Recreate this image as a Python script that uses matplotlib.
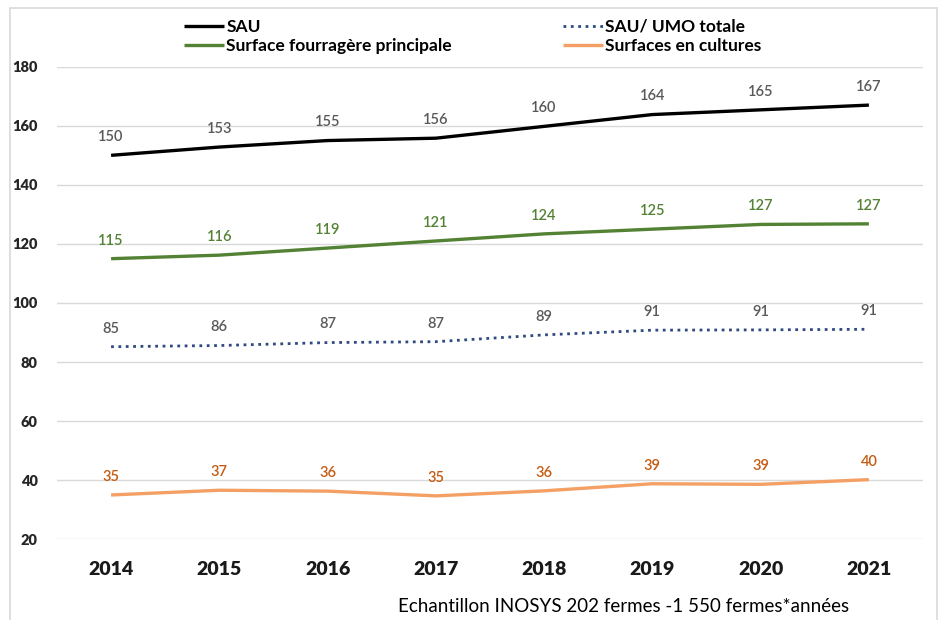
import matplotlib.pyplot as plt
from matplotlib.patches import Rectangle

# =====================================================
# DATA
# =====================================================

years = [2014, 2015, 2016, 2017, 2018, 2019, 2020, 2021]

sau = [150.0, 152.8, 155.0, 155.8, 159.8, 163.8, 165.4, 167.0]
sfp = [115.0, 116.2, 118.6, 121.0, 123.4, 125.0, 126.6, 126.8]
sau_umo = [85.2, 85.6, 86.6, 86.9, 89.2, 90.8, 90.9, 91.1]
cultures = [35.0, 36.6, 36.3, 34.7, 36.4, 38.8, 38.6, 40.2]

sau_labels = [150, 153, 155, 156, 160, 164, 165, 167]
sfp_labels = [115, 116, 119, 121, 124, 125, 127, 127]
umo_labels = [85, 86, 87, 87, 89, 91, 91, 91]
cult_labels = [35, 37, 36, 35, 36, 39, 39, 40]

# =====================================================
# FIGURE
# =====================================================

plt.rcParams["font.family"] = ["Lato", "DejaVu Sans"]

fig = plt.figure(figsize=(9.43, 6.2), dpi=100)
ax = fig.add_axes([0.0604, 0.1302, 0.9184, 0.7622])

fig.patches.append(Rectangle(
    (10 / 943, -0.05), 927 / 943, 1 - 8 / 620 + 0.05,
    transform=fig.transFigure, fill=False,
    edgecolor="#d9d9d9", linewidth=1.2
))

x = list(range(len(years)))

series = [
    (sau, sau_labels, "SAU", "#000000", "-", "#595959"),
    (sfp, sfp_labels, "Surface fourragère principale", "#548235", "-", "#548235"),
    (sau_umo, umo_labels, "SAU/ UMO totale", "#2F4A80", ":", "#595959"),
    (cultures, cult_labels, "Surfaces en cultures", "#F4A064", "-", "#C55A11"),
]

handles = []
for vals, labs, name, col, ls, lab_col in series:
    h, = ax.plot(x, vals, color=col, linestyle=ls,
                 linewidth=2.4 if ls == "-" else 2.0, label=name,
                 solid_capstyle="butt")
    handles.append(h)
    for xi, v, lab in zip(x, vals, labs):
        ax.annotate(str(lab), (xi, v), xytext=(0, 8),
                    textcoords="offset points", ha="center", va="bottom",
                    fontsize=10.5, fontweight="semibold", color=lab_col)

ax.set_xlim(-0.5, len(years) - 0.5)
ax.set_ylim(20, 180)
ax.set_yticks(range(20, 181, 20))
ax.set_xticks(x)
ax.set_xticklabels([str(y) for y in years])

ax.grid(axis="y", color="#d9d9d9", linewidth=1.0)
ax.set_axisbelow(True)
for s in ax.spines.values():
    s.set_visible(False)

ax.tick_params(axis="both", length=0)
ax.tick_params(axis="y", labelsize=10.5, pad=14, labelcolor="#262626")
ax.tick_params(axis="x", labelsize=14, pad=16, labelcolor="#1a1a1a")
for t in ax.get_yticklabels() + ax.get_xticklabels():
    t.set_fontweight("heavy")

leg = fig.legend(handles=handles, ncol=2, loc="upper left",
                 bbox_to_anchor=(168 / 943, 1 - 3 / 620),
                 frameon=False, handlelength=2.3, handletextpad=0.15,
                 columnspacing=6.4, labelspacing=0.2,
                 prop={"size": 12.5, "weight": "bold"})

fig.text(398 / 943, 1 - 607 / 620,
         "Echantillon INOSYS 202 fermes -1 550 fermes*années",
         fontsize=13.5, ha="left", va="center", color="#000000")

fig.savefig("out.png", dpi=100)
